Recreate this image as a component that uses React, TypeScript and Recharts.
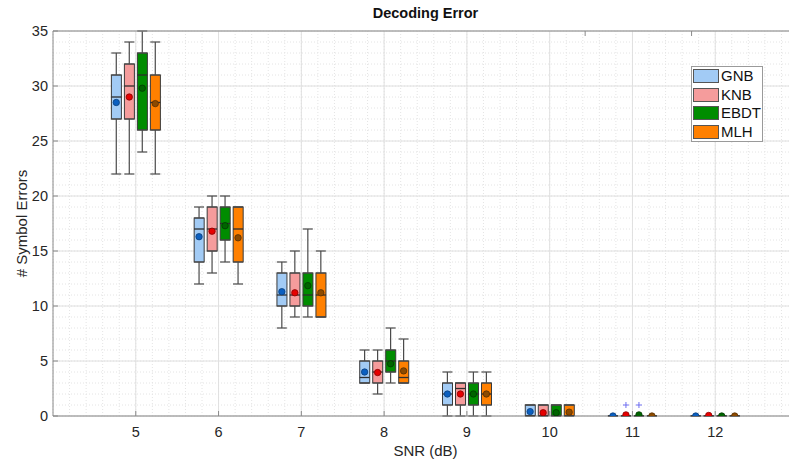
import { ComposedChart, Bar, Scatter, ErrorBar, XAxis, YAxis, CartesianGrid } from "recharts";

const snrLevels = [5, 6, 7, 8, 9, 10, 11, 12];
const yTicks = [0, 5, 10, 15, 20, 25, 30, 35];

// each entry: [min, q1, median, q3, max] for one SNR level
const gnbBoxes = [
  [22, 27, 29, 31, 33],
  [12, 14, 17, 18, 19],
  [8, 10, 11, 13, 14],
  [3, 3, 3.5, 5, 6],
  [0, 1, 2, 3, 4],
  [0, 0, 0, 1, 1],
  [0, 0, 0, 0, 0],
  [0, 0, 0, 0, 0],
];
const gnbMeans = [28.5, 16.3, 11.3, 4.0, 2.0, 0.4, 0, 0];

const knbBoxes = [
  [22, 27, 30, 32, 34],
  [13, 15, 17, 19, 20],
  [9, 10, 11, 13, 15],
  [2, 3, 4, 5, 6],
  [0, 1, 2.5, 3, 3],
  [0, 0, 0, 1, 1],
  [0, 0, 0, 0, 0],
  [0, 0, 0, 0, 0],
];
const knbMeans = [29.0, 16.8, 11.2, 3.95, 2.0, 0.3, 0.1, 0.05];

const ebdtBoxes = [
  [24, 26, 31, 33, 35],
  [14, 16, 17.5, 19, 20],
  [9, 10, 11, 13, 17],
  [3, 4, 5, 6, 8],
  [0, 1, 2, 3, 4],
  [0, 0, 0, 1, 1],
  [0, 0, 0, 0, 0],
  [0, 0, 0, 0, 0],
];
const ebdtMeans = [29.8, 17.3, 11.85, 4.75, 2.0, 0.3, 0.1, 0];

const mlhBoxes = [
  [22, 26, 28.5, 31, 34],
  [12, 14, 17, 19, 19],
  [9, 9, 11, 13, 15],
  [3, 3, 3.5, 5, 7],
  [0, 1, 2, 3, 4],
  [0, 0, 0, 1, 1],
  [0, 0, 0, 0, 0],
  [0, 0, 0, 0, 0],
];
const mlhMeans = [28.4, 16.2, 11.2, 4.1, 2.0, 0.35, 0, 0];

// outliers as [snr, value]
const gnbOutliers: number[][] = [];
const knbOutliers = [[11, 1]];
const ebdtOutliers = [[11, 1]];
const mlhOutliers: number[][] = [];

const FONT = "'Liberation Sans', Arial, Helvetica, sans-serif";
const CHART_W = 798;
const CHART_H = 463;
const Y_AXIS_W = 53;
const PLOT_W = CHART_W - Y_AXIS_W;
const UNIT_PX = PLOT_W / 9;
const BOX_STEP = 13;

const series = [
  { name: "GNB", boxes: gnbBoxes, means: gnbMeans, outliers: gnbOutliers, fill: "#a2cbf5", dot: "#0b5fc0", dotEdge: "#0a3f7c", slot: -1.5 },
  { name: "KNB", boxes: knbBoxes, means: knbMeans, outliers: knbOutliers, fill: "#f59c9c", dot: "#e60000", dotEdge: "#8a0000", slot: -0.5 },
  { name: "EBDT", boxes: ebdtBoxes, means: ebdtMeans, outliers: ebdtOutliers, fill: "#008c00", dot: "#006400", dotEdge: "#003c00", slot: 0.5 },
  { name: "MLH", boxes: mlhBoxes, means: mlhMeans, outliers: mlhOutliers, fill: "#ff8000", dot: "#8c4a00", dotEdge: "#5a3000", slot: 1.5 },
];

const boxRows = snrLevels.map((snr, i) => {
  const row: any = { snr };
  series.forEach((s) => {
    row[s.name] = [s.boxes[i][1], s.boxes[i][3]];
  });
  return row;
});

const minorX: number[] = [];
for (let k = 0; k <= 45; k++) minorX.push(4 + k * 0.2);
const minorY: number[] = [];
for (let k = 0; k <= 35; k++) minorY.push(k);

function BoxShape(props: any) {
  const { x, y, width, height, fill } = props;
  return <rect x={x} y={y} width={width} height={Math.max(height, 0)} fill={fill} stroke="#3a3a3a" strokeWidth={1} />;
}

function MedianShape(props: any) {
  const { cx, cy } = props;
  return <line x1={cx - 5} x2={cx + 5} y1={cy} y2={cy} stroke="#2e2e2e" strokeWidth={1.3} />;
}

function Empty() {
  return <g />;
}

function YTick(props: any) {
  const { x, y, payload } = props;
  return (
    <g>
      <text x={x} y={y} textAnchor="end" dominantBaseline="central" fill="#262626" fontSize={14.5} fontFamily={FONT}>
        {payload.value}
      </text>
      <line x1={x + 5} x2={x + 10} y1={y} y2={y} stroke="#8a8a8a" />
    </g>
  );
}

function XTick(props: any) {
  const { x, y, payload } = props;
  return (
    <g>
      <text x={x} y={y} dy="0.71em" textAnchor="middle" fill="#262626" fontSize={14.5} fontFamily={FONT}>
        {payload.value}
      </text>
      <line x1={x} x2={x} y1={y - 11} y2={y - 16} stroke="#8a8a8a" />
    </g>
  );
}

function TopTick(props: any) {
  const { x, y } = props;
  return <line x1={x} x2={x} y1={y} y2={y + 5} stroke="#8a8a8a" />;
}

function App() {
  return (
    <div style={{ position: "fixed", left: 0, top: 0, width: 789, height: 463, overflow: "hidden", background: "#fff" }}>
      <div
        style={{
          position: "absolute",
          left: Y_AXIS_W,
          width: PLOT_W,
          top: 5,
          textAlign: "center",
          fontFamily: FONT,
          fontSize: 14.5,
          fontWeight: "bold",
          color: "#111",
        }}
      >
        Decoding Error
      </div>
      <ComposedChart width={CHART_W} height={CHART_H} data={boxRows} margin={{ top: 30, right: 0, left: 0, bottom: 0 }} barGap={3}>
        <CartesianGrid xAxisId="num" verticalValues={minorX} horizontalValues={minorY} stroke="#e4e4e4" strokeDasharray="1 2" />
        <CartesianGrid xAxisId="num" verticalValues={snrLevels} horizontalValues={yTicks} stroke="#e0e0e0" />
        <XAxis xAxisId="cat" dataKey="snr" type="category" hide height={0} padding={{ left: PLOT_W / 18, right: PLOT_W / 18 }} />
        <XAxis
          xAxisId="num"
          dataKey="x"
          type="number"
          domain={[4, 13]}
          ticks={snrLevels}
          interval={0}
          allowDataOverflow
          height={47}
          tickSize={0}
          tickMargin={11}
          tick={<XTick />}
          axisLine={{ stroke: "#8a8a8a" }}
          label={{
            content: (p: any) => (
              <text x={p.viewBox.x + p.viewBox.width / 2} y={p.viewBox.y + 40} textAnchor="middle" fill="#262626" fontSize={15} fontFamily={FONT}>
                SNR (dB)
              </text>
            ),
          }}
        />
        <XAxis
          xAxisId="top"
          orientation="top"
          type="number"
          domain={[4, 13]}
          ticks={snrLevels}
          interval={0}
          height={1}
          tickSize={0}
          tickMargin={0}
          tick={<TopTick />}
          axisLine={{ stroke: "#8a8a8a" }}
        />
        <YAxis
          dataKey="y"
          type="number"
          domain={[0, 35]}
          ticks={yTicks}
          interval={0}
          allowDataOverflow
          width={Y_AXIS_W}
          tickSize={0}
          tickMargin={5}
          tick={<YTick />}
          axisLine={{ stroke: "#8a8a8a" }}
          label={{
            content: (p: any) => {
              const cy = p.viewBox.y + p.viewBox.height / 2;
              return (
                <text x={21} y={cy} transform={`rotate(-90 21 ${cy})`} textAnchor="middle" dominantBaseline="central" fill="#262626" fontSize={15} fontFamily={FONT}>
                  # Symbol Errors
                </text>
              );
            },
          }}
        />

        {series.map((s) => {
          const off = (s.slot * BOX_STEP) / UNIT_PX;
          const lowPts = snrLevels.map((snr, i) => ({ x: snr + off, y: s.boxes[i][1], err: [s.boxes[i][1] - s.boxes[i][0], 0] }));
          return (
            <Scatter key={s.name + "-low"} xAxisId="num" data={lowPts} dataKey="y" shape={<Empty />} isAnimationActive={false}>
              <ErrorBar dataKey="err" direction="y" width={5} stroke="#4a4a4a" strokeWidth={1.2} />
            </Scatter>
          );
        })}
        {series.map((s) => {
          const off = (s.slot * BOX_STEP) / UNIT_PX;
          const highPts = snrLevels.map((snr, i) => ({ x: snr + off, y: s.boxes[i][3], err: [0, s.boxes[i][4] - s.boxes[i][3]] }));
          return (
            <Scatter key={s.name + "-high"} xAxisId="num" data={highPts} dataKey="y" shape={<Empty />} isAnimationActive={false}>
              <ErrorBar dataKey="err" direction="y" width={5} stroke="#4a4a4a" strokeWidth={1.2} />
            </Scatter>
          );
        })}

        {series.map((s) => (
          <Bar key={s.name} xAxisId="cat" dataKey={s.name} fill={s.fill} barSize={10} shape={<BoxShape />} isAnimationActive={false} />
        ))}

        {series.map((s) => {
          const off = (s.slot * BOX_STEP) / UNIT_PX;
          const medPts = snrLevels.map((snr, i) => ({ x: snr + off, y: s.boxes[i][2] }));
          return <Scatter key={s.name + "-med"} xAxisId="num" data={medPts} dataKey="y" shape={<MedianShape />} isAnimationActive={false} />;
        })}
        {series.map((s) => {
          const off = (s.slot * BOX_STEP) / UNIT_PX;
          const meanPts = snrLevels.map((snr, i) => ({ x: snr + off, y: s.means[i] }));
          return (
            <Scatter
              key={s.name + "-mean"}
              xAxisId="num"
              data={meanPts}
              dataKey="y"
              isAnimationActive={false}
              shape={(p: any) => <circle cx={p.cx} cy={p.cy} r={3.2} fill={s.dot} stroke={s.dotEdge} strokeWidth={0.8} />}
            />
          );
        })}
        {series.map((s) => {
          const off = (s.slot * BOX_STEP) / UNIT_PX;
          const pts = s.outliers.map((o) => ({ x: o[0] + off, y: o[1] }));
          return (
            <Scatter
              key={s.name + "-out"}
              xAxisId="num"
              data={pts}
              dataKey="y"
              isAnimationActive={false}
              shape={(p: any) => (
                <g stroke="#6f6ff2" strokeWidth={1}>
                  <line x1={p.cx - 3} x2={p.cx + 3} y1={p.cy} y2={p.cy} />
                  <line x1={p.cx} x2={p.cx} y1={p.cy - 3} y2={p.cy + 3} />
                </g>
              )}
            />
          );
        })}
      </ComposedChart>

      <div
        style={{
          position: "absolute",
          left: 691,
          top: 66,
          width: 70,
          height: 74,
          border: "1px solid #9a9a9a",
          background: "#fff",
          fontFamily: FONT,
          fontSize: 15,
          color: "#111",
        }}
      >
        {series.map((s, i) => (
          <div key={s.name} style={{ position: "absolute", left: 1, top: 2 + i * 18.7, display: "flex", alignItems: "center", height: 14 }}>
            <div style={{ width: 24, height: 12, background: s.fill, border: "1px solid #555" }} />
            <span style={{ marginLeft: 2, lineHeight: "14px" }}>{s.name}</span>
          </div>
        ))}
      </div>
    </div>
  );
}

export default App;
